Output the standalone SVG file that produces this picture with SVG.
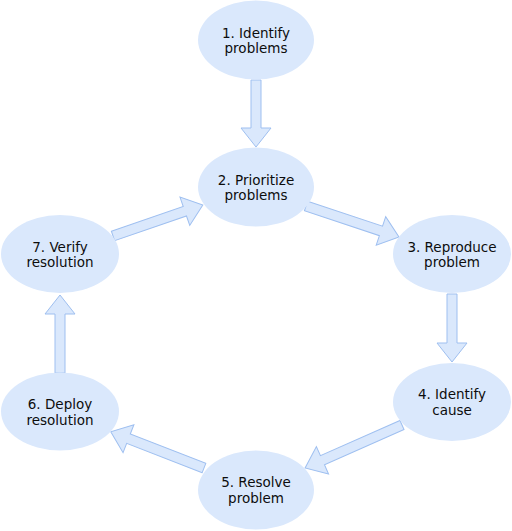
<svg xmlns="http://www.w3.org/2000/svg" width="512" height="531" viewBox="0 0 512 531">
<defs>
<style>
.n{fill:#dae8fc;stroke:none}
.t{font-family:"DejaVu Sans",Verdana,sans-serif;font-size:13.5px;fill:#0d0d0d;text-anchor:middle}
.a{fill:#dae8fc;stroke:#9ebff0;stroke-width:1;stroke-linejoin:miter}
</style>
</defs>
<g id="connectors">
<path class="a" transform="translate(256,80) rotate(90)" d="M0,-5 L48,-5 L48,-15 L67,0 L48,15 L48,5 L0,5 Z"/>
<path class="a" transform="translate(306,206) rotate(18.4)" d="M0,-5 L79,-5 L79,-15 L98,0 L79,15 L79,5 L0,5 Z"/>
<path class="a" transform="translate(452,294) rotate(90)" d="M0,-5 L49,-5 L49,-15 L68,0 L49,15 L49,5 L0,5 Z"/>
<path class="a" transform="translate(402,425) rotate(156.1)" d="M0,-5 L87,-5 L87,-15 L106,0 L87,15 L87,5 L0,5 Z"/>
<path class="a" transform="translate(204,468) rotate(201.2)" d="M0,-5 L81,-5 L81,-15 L100,0 L81,15 L81,5 L0,5 Z"/>
<path class="a" transform="translate(60,373) rotate(-90)" d="M0,-5 L59,-5 L59,-15 L78,0 L59,15 L59,5 L0,5 Z"/>
<path class="a" transform="translate(113,236) rotate(-19)" d="M0,-5 L76,-5 L76,-15 L95,0 L76,15 L76,5 L0,5 Z"/>
</g>
<g id="n1"><ellipse class="n" cx="256" cy="40" rx="58" ry="39.5"/><text class="t" x="256" y="37.5">1. Identify</text><text class="t" x="256" y="53">problems</text></g>
<g id="n2"><ellipse class="n" cx="256" cy="187" rx="58" ry="39.5"/><text class="t" x="256" y="184.5">2. Prioritize</text><text class="t" x="256" y="200">problems</text></g>
<g id="n3"><ellipse class="n" cx="452" cy="254" rx="59" ry="39"/><text class="t" x="452" y="251.5">3. Reproduce</text><text class="t" x="452" y="267">problem</text></g>
<g id="n4"><ellipse class="n" cx="452" cy="402" rx="59" ry="39"/><text class="t" x="452" y="399">4. Identify</text><text class="t" x="452" y="414.5">cause</text></g>
<g id="n5"><ellipse class="n" cx="256" cy="490" rx="58" ry="39.5"/><text class="t" x="256" y="487">5. Resolve</text><text class="t" x="256" y="502.5">problem</text></g>
<g id="n6"><ellipse class="n" cx="60" cy="411.5" rx="59" ry="39"/><text class="t" x="60" y="409">6. Deploy</text><text class="t" x="60" y="424.5">resolution</text></g>
<g id="n7"><ellipse class="n" cx="60" cy="254" rx="59" ry="39"/><text class="t" x="60" y="251.5">7. Verify</text><text class="t" x="60" y="267">resolution</text></g>
</svg>
